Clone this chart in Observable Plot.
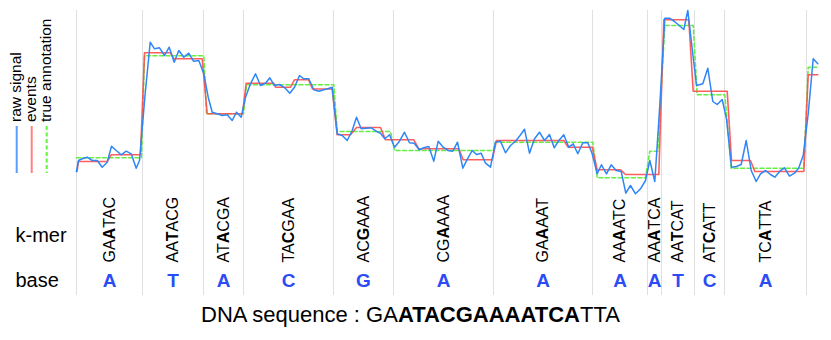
<!DOCTYPE html>
<html><head><meta charset="utf-8">
<script src="https://cdn.jsdelivr.net/npm/d3@7"></script>
<script src="https://cdn.jsdelivr.net/npm/@observablehq/plot@0.6"></script>
<style>
body{margin:0;background:#fff;}
#chart{position:relative;width:831px;height:340px;font-family:"Liberation Sans",Arial,Helvetica,sans-serif;background:#fff;}
#chart svg{display:block;}
#caption{position:absolute;left:201px;top:303px;font-size:22px;line-height:24px;white-space:nowrap;color:#000;}
.lgtext{position:absolute;font-size:15.5px;line-height:16px;white-space:nowrap;color:#000;transform-origin:0 0;transform:rotate(-90deg);}
</style></head><body>
<div id="chart"></div>
<script>
// raw nanopore signal (time units, current units)
const signalTime = [0,2,5.7,10.7,15.7,20.7,25.7,30.7,35,39.7,
44.7,49.7,54.7,59.7,63,68.5,73.7,78,83,88,
92.7,97.7,102.3,107.3,112.3,117,122.3,127.3,131.7,135.7,
140.7,145.7,150.7,155.7,160,164.7,169,174,179,184,
189,193.3,198,203,208.3,213.3,218,223,227.3,232.3,
237.3,242.3,247.3,251.3,255.7,260.7,265.7,270.7,275.7,280,
284.7,289.7,294.7,299.7,304,308.3,313,318,323,328,
333,337.7,342.7,347.3,352.3,357.3,361.7,366.7,371.7,376.3,
381,386.3,391,395.7,400,404.7,409,414,419,424,
429,434,439,443.5,448,453,458,463,468,473,
477.7,482.3,487.3,492.3,496.7,501.3,506.3,511.3,515.7,520.7,
525,530,534.7,539.7,544.7,549.3,554,559,564,569,
573.3,578.3,583.3,588.3,593,598,602.7,607.3,611.3,615.7,
620,626.3,631.3,636.3,640.7,645.7,650,655,660,664.7,
669.7,674.7,679.7,684,689,694,698.3,703.3,708,713,
718,722.3,726.7,731.7,736.7,741.3];
const signalCurrent = [29,40,41.7,43.3,40,40,33.3,38.3,54.3,50,
45.7,49.3,46.7,32.3,40,105,158.3,151.7,152.7,145,
153.3,138.3,150,143.3,147.3,139.3,140,126.7,103.3,88.3,
86.7,85,85.7,80,88.3,83.3,103.3,116.7,126.7,115,
117.3,122.7,115,116,112.7,107.3,113.3,125,121.7,121.7,
110.7,109.3,110.7,111.7,113.3,66.7,65,60,70,83.3,
71.7,72.3,72.7,69.3,67.3,61.7,65.7,53.3,59.3,68.3,
57.7,57.3,50.7,52.7,54,39.3,59.3,53.3,50,49.3,
58.3,32.3,41.7,50,46,47.3,37.3,33.3,58.3,59.3,
47.7,55,59.3,65,71.3,47.3,61.7,68.3,60,66,
52.7,60,65.7,53.3,56.7,46.7,57.7,57.7,46.7,26.7,
35.7,26.7,35.7,30,29,7.3,15,6.7,11.7,20,
40,19,95,182.3,182.3,179,175,171,190,151.7,
115,116.7,132.3,99,96,101,81.7,33.3,34,36,
60,30,19,26.7,30,26,23.3,29.3,32.7,24.3,
27.3,32.7,45,86.7,141.7,136.7];

// detected events (segmentation)
const eventStart = [0,2,34.7,68,97.3,130.7,169.7,199,218,236,260.7,280,309,342.3,386.7,420,491.7,520.7,549,587.3,616.7,655,678.3,731.7];
const eventEnd   = [0.5,30.7,64,94,125.7,166,197.3,214,232,255.7,274,304,337.3,382.3,415.7,487.3,515.7,544,582.3,612.3,650.7,674,727.3,741.3];
const eventLevel = [29,39,45.7,147.7,141.7,86.7,117.3,113.3,120.7,111.5,65.7,73,60.7,51.7,40.7,60,53.3,30.7,26,180.7,109.2,40,29,125.7];

// true annotation
const annStart = [0,68,130,170,260.7,318,419,520.7,573.3,588.3,620.7,654.7,731.7];
const annEnd   = [65,127.3,167,257.3,314,416.7,516.3,569,581.3,616.7,648.3,727.3,740.7];
const annLevel = [42.7,144.7,86.7,115.7,69,50,58.3,22.7,49.3,175,105.7,32.3,133.3];

// base boundaries, bases and k-mers
const boundaries = [0,66,127,167,257,317,417,516,571,585,618,648,730];
const bases = ["A","T","A","C","G","A","A","A","A","T","C","A"];
const kmers = ["GAATAC","AATACG","ATACGA","TACGAA","ACGAAA","CGAAAA","GAAAAT","AAAATC","AAATCA","AATCAT","ATCATT","TCATTA"];
const rowLabels = ["k-mer","base"];
const sequence = "GAATACGAAAATCATTA";
const seqPrefix = 2, seqSuffix = 3;
const legendItems = ["raw signal","events","true annotation"];

const font = '"Liberation Sans", Arial, Helvetica, sans-serif';
const cBlue = "#2f86f6", cRed = "#ff4d4d", cGreen = "#66ee44", cBase = "#2b4cf5", cGrid = "#e0e0e0";

const raw = signalTime.map((t, i) => ({t, v: signalCurrent[i]}));
const ev = eventStart.flatMap((s, i) => [{t: s, v: eventLevel[i]}, {t: eventEnd[i], v: eventLevel[i]}]);
const ann = annStart.flatMap((s, i) => [{t: s, v: annLevel[i]}, {t: annEnd[i], v: annLevel[i]}]);
const centers = bases.map((b, i) => (boundaries[i] + boundaries[i + 1]) / 2);

const topPlot = Plot.plot({
  width: 831, height: 190, marginTop: 10, marginBottom: 0, marginLeft: 76, marginRight: 10,
  x: {domain: [0, 745], axis: null},
  y: {domain: [10, 190], axis: null},
  style: {fontFamily: font, background: "white", overflow: "visible"},
  marks: [
    Plot.ruleX(boundaries, {stroke: cGrid, strokeWidth: 1}),
    Plot.line(ann, {x: "t", y: "v", stroke: cGreen, strokeWidth: 1.6, strokeDasharray: "4,2.5"}),
    Plot.line(ev, {x: "t", y: "v", stroke: cRed, strokeWidth: 1.6, strokeOpacity: 0.9}),
    Plot.line(raw, {x: "t", y: "v", stroke: cBlue, strokeWidth: 1.5})
  ]
});

// legend swatches (left side)
const lg = d3.select(topPlot).append("g");
const legendStyles = [{c: cBlue, o: 0.8, d: null}, {c: cRed, o: 0.7, d: null}, {c: cGreen, o: 1, d: "4,2.5"}];
const legendX = legendItems.map((d, i) => 16.7 + 15 * i);
legendItems.forEach((label, i) => {
  lg.append("line").attr("x1", legendX[i]).attr("x2", legendX[i]).attr("y1", 126).attr("y2", 173)
    .attr("stroke", legendStyles[i].c).attr("stroke-opacity", legendStyles[i].o).attr("stroke-width", 2)
    .attr("stroke-dasharray", legendStyles[i].d);
});

const bottomPlot = Plot.plot({
  width: 831, height: 105, marginTop: 0, marginBottom: 0, marginLeft: 76, marginRight: 10,
  x: {domain: [0, 745], axis: null},
  y: {type: "point", domain: rowLabels, range: [45, 90], padding: 0, axis: null},
  style: {fontFamily: font, background: "transparent", overflow: "visible"},
  marks: [
    Plot.ruleX(boundaries, {stroke: cGrid, strokeWidth: 1}),
    Plot.text(rowLabels, {y: d => d, text: d => d, frameAnchor: "left", dx: -61, textAnchor: "start", fontSize: 20, fill: "#000"}),
    Plot.text(kmers, {x: (d, i) => centers[i], y: () => "k-mer", text: d => d, rotate: -90, textAnchor: "start", dy: 27, fontSize: 16, fill: "#000"}),
    Plot.text(bases, {x: (d, i) => centers[i], y: () => "base", text: d => d, fontSize: 19, fontWeight: "bold", fill: cBase})
  ]
});

// bold the central base of each k-mer
const kset = new Set(kmers);
d3.select(bottomPlot).selectAll("text").each(function() {
  const s = this.textContent;
  if (kset.has(s) && this.childElementCount === 0) {
    this.textContent = "";
    const t = d3.select(this);
    t.append("tspan").text(s.slice(0, 2));
    t.append("tspan").attr("font-weight", "bold").text(s[2]);
    t.append("tspan").text(s.slice(3));
  }
});

const chart = document.getElementById("chart");
chart.appendChild(topPlot);
chart.appendChild(bottomPlot);

// legend labels (rotated HTML text)
legendItems.forEach((label, i) => {
  const el = document.createElement("div");
  el.className = "lgtext";
  el.style.left = (legendX[i] - 8.5) + "px";
  el.style.top = "122px";
  el.textContent = label;
  chart.appendChild(el);
});

const cap = document.createElement("div");
cap.id = "caption";
cap.append("DNA sequence : " + sequence.slice(0, seqPrefix));
const bEl = document.createElement("b");
bEl.textContent = sequence.slice(seqPrefix, sequence.length - seqSuffix);
cap.append(bEl);
cap.append(sequence.slice(sequence.length - seqSuffix));
chart.appendChild(cap);
</script>
</body></html>
